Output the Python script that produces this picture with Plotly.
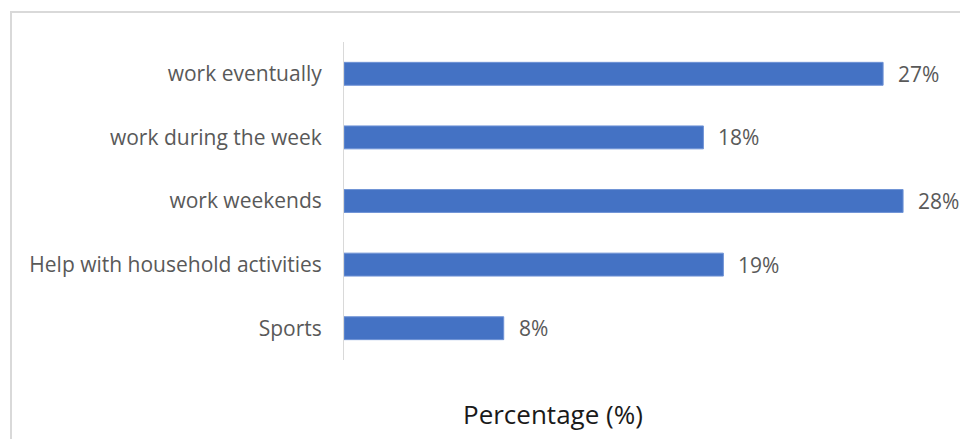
import plotly.graph_objects as go

categories = ["work eventually", "work during the week", "work weekends",
              "Help with household activities", "Sports"]
values = [27, 18, 28, 19, 8]
value_labels = ["27%", "18%", "28%", "19%", "8%"]
axis_title = "Percentage (%)"

W, H = 960, 439
L, R, T, B = 344, 16, 42, 79
pw = W - L - R
ph = H - T - B
FONT = "Open Sans"

fig = go.Figure()
fig.add_trace(go.Bar(
    x=values, y=categories, orientation="h",
    marker=dict(color="#4472C4", line=dict(color="#6f93d6", width=1)),
    width=0.36, showlegend=False, hoverinfo="skip",
))

for v, c, t in zip(values, categories, value_labels):
    fig.add_annotation(x=v, y=c, text=t, showarrow=False, xanchor="left",
                       xshift=13, font=dict(family=FONT, size=21, color="#595959"))

fig.add_annotation(xref="paper", yref="paper", x=(553 - L) / pw, y=0, yshift=-54,
                   text=axis_title, showarrow=False, xanchor="center", yanchor="middle",
                   font=dict(family=FONT, size=26, color="#1a1a1a"))

fig.add_shape(type="rect", xref="paper", yref="paper",
              x0=(11 - L) / pw, x1=1.2, y0=-0.5, y1=1 + (T - 12) / ph,
              line=dict(color="#d9d9d9", width=2), fillcolor="rgba(0,0,0,0)", layer="below")

fig.update_layout(
    width=W, height=H,
    margin=dict(l=L, r=R, t=T, b=B, autoexpand=False),
    plot_bgcolor="white", paper_bgcolor="white",
    xaxis=dict(range=[0, 30.05], visible=False, fixedrange=True),
    yaxis=dict(categoryorder="array", categoryarray=categories[::-1],
               showline=True, linecolor="#d9d9d9", linewidth=1,
               showgrid=False, zeroline=False, ticks="",
               ticklabelstandoff=17,
               tickfont=dict(family=FONT, size=21, color="#595959")),
)

fig.write_html("out.html")
